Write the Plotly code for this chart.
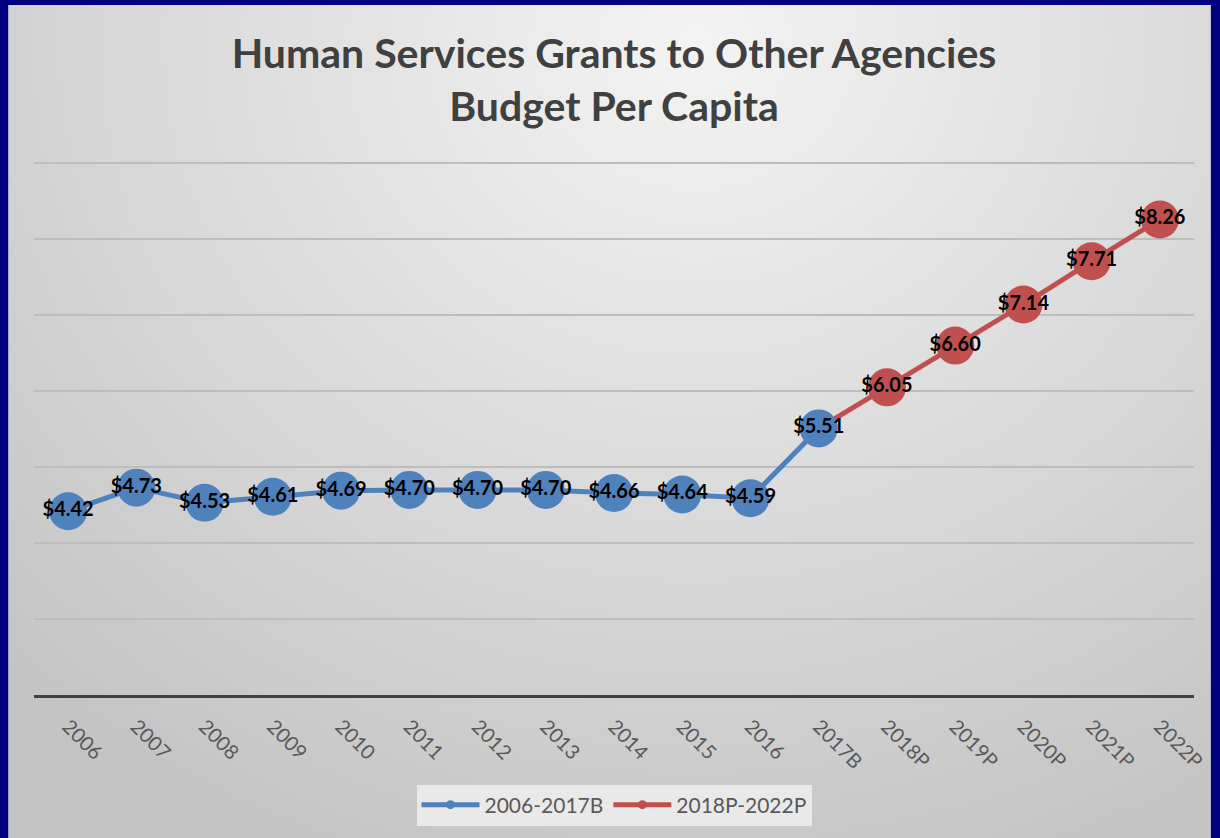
import base64
import struct
import zlib

import numpy as np
import plotly.graph_objects as go

# ---- data -------------------------------------------------------------
years = ["2006", "2007", "2008", "2009", "2010", "2011", "2012", "2013", "2014",
         "2015", "2016", "2017B", "2018P", "2019P", "2020P", "2021P", "2022P"]
actual_years = years[:12]
actual_values = [4.42, 4.73, 4.53, 4.61, 4.69, 4.70, 4.70, 4.70, 4.66, 4.64, 4.59, 5.51]
projected_years = years[11:]
projected_values = [5.51, 6.05, 6.60, 7.14, 7.71, 8.26]

BLUE = "#4F81BD"
RED = "#C0504D"
NAVY = "#000080"
FONT = "Lato"

W, H = 1220, 838
M_L, M_R, M_T, M_B = 34, 17, 161, 143
Y_MIN, Y_MAX = 2, 9.03


# ---- soft grey radial backdrop as an inline PNG --------------------------
def gray_png(arr):
    h, w = arr.shape
    raw = b"".join(b"\x00" + arr[r].tobytes() for r in range(h))

    def chunk(tag, data):
        c = struct.pack(">I", len(data)) + tag + data
        return c + struct.pack(">I", zlib.crc32(tag + data) & 0xFFFFFFFF)

    png = b"\x89PNG\r\n\x1a\n"
    png += chunk(b"IHDR", struct.pack(">IIBBBBB", w, h, 8, 0, 0, 0, 0))
    png += chunk(b"IDAT", zlib.compress(raw, 9))
    png += chunk(b"IEND", b"")
    return "data:image/png;base64," + base64.b64encode(png).decode()


gw, gh = 305, 210
xs = np.linspace(8, W, gw)
ys = np.linspace(5, H, gh)
gx, gy = np.meshgrid(xs, ys)
dist = np.sqrt((gx - 700) ** 2 + ((gy - 40) / 0.9) ** 2)
shade = 244 - 48 * np.clip(dist / 1000, 0, 1)
backdrop = gray_png(shade.astype(np.uint8))

pw = W - M_L - M_R
ph = H - M_T - M_B


def px_to_paper_x(px):
    return (px - M_L) / pw


def px_to_paper_y(py):
    return (H - M_B - py) / ph


label_font = dict(family=FONT, size=20, color="#000000", weight="bold")

fig = go.Figure()

# projected series first so the 2017B blue marker sits on top of its line
proj_sizes = [0] + [38] * (len(projected_values) - 1)
proj_text = [""] + [f"${v:.2f}" for v in projected_values[1:]]
fig.add_trace(go.Scatter(
    x=projected_years, y=projected_values, mode="lines+markers+text",
    line=dict(color=RED, width=5),
    marker=dict(color=RED, size=proj_sizes, opacity=1, line=dict(width=0)),
    text=proj_text, textposition="middle center", textfont=label_font,
    showlegend=False, hoverinfo="x+y",
))
fig.add_trace(go.Scatter(
    x=actual_years, y=actual_values, mode="lines+markers+text",
    line=dict(color=BLUE, width=5),
    marker=dict(color=BLUE, size=38, opacity=1, line=dict(width=0)),
    text=[f"${v:.2f}" for v in actual_values], textposition="middle center",
    textfont=label_font,
    showlegend=False, hoverinfo="x+y",
))

# legend entries with small symbols
fig.add_trace(go.Scatter(
    x=[None], y=[None], mode="lines+markers", name="2006-2017B",
    line=dict(color=BLUE, width=5), marker=dict(color=BLUE, size=9),
))
fig.add_trace(go.Scatter(
    x=[None], y=[None], mode="lines+markers", name="2018P-2022P",
    line=dict(color=RED, width=5), marker=dict(color=RED, size=9),
))

fig.update_layout(
    width=W, height=H,
    margin=dict(l=M_L, r=M_R, t=M_T, b=M_B),
    paper_bgcolor=NAVY,
    plot_bgcolor="rgba(0,0,0,0)",
    images=[dict(
        source=backdrop, xref="paper", yref="paper",
        x=px_to_paper_x(8), y=px_to_paper_y(5),
        sizex=(W - 8) / pw, sizey=(H - 5) / ph,
        xanchor="left", yanchor="top", sizing="stretch", layer="below",
    )],
    title=dict(
        text="Human Services Grants to Other Agencies<br>Budget Per Capita",
        x=0.5, xanchor="center", xref="paper",
        y=1 - 68 / H, yanchor="middle",
        font=dict(family=FONT, size=41, color="#404040", weight="bold"),
    ),
    xaxis=dict(
        type="category", categoryorder="array", categoryarray=years,
        range=[-0.5, len(years) - 0.5],
        showgrid=False, zeroline=False,
        showline=True, linecolor="#404040", linewidth=3,
        ticks="", tickangle=45,
        tickfont=dict(family=FONT, size=20, color="#595959"),
        ticklabelstandoff=9,
    ),
    yaxis=dict(
        range=[Y_MIN, Y_MAX], tick0=0, dtick=1, showticklabels=False, ticks="",
        showgrid=True, gridcolor="#BDBDBD", gridwidth=2,
        zeroline=False, showline=False,
    ),
    legend=dict(
        orientation="h", x=0.5, xanchor="center",
        y=px_to_paper_y(805), yanchor="middle",
        bgcolor="rgba(236,236,236,0.9)",
        font=dict(family=FONT, size=21, color="#595959"),
        itemwidth=58, tracegroupgap=24,
    ),
    showlegend=True,
)

fig.write_html("out.html")
